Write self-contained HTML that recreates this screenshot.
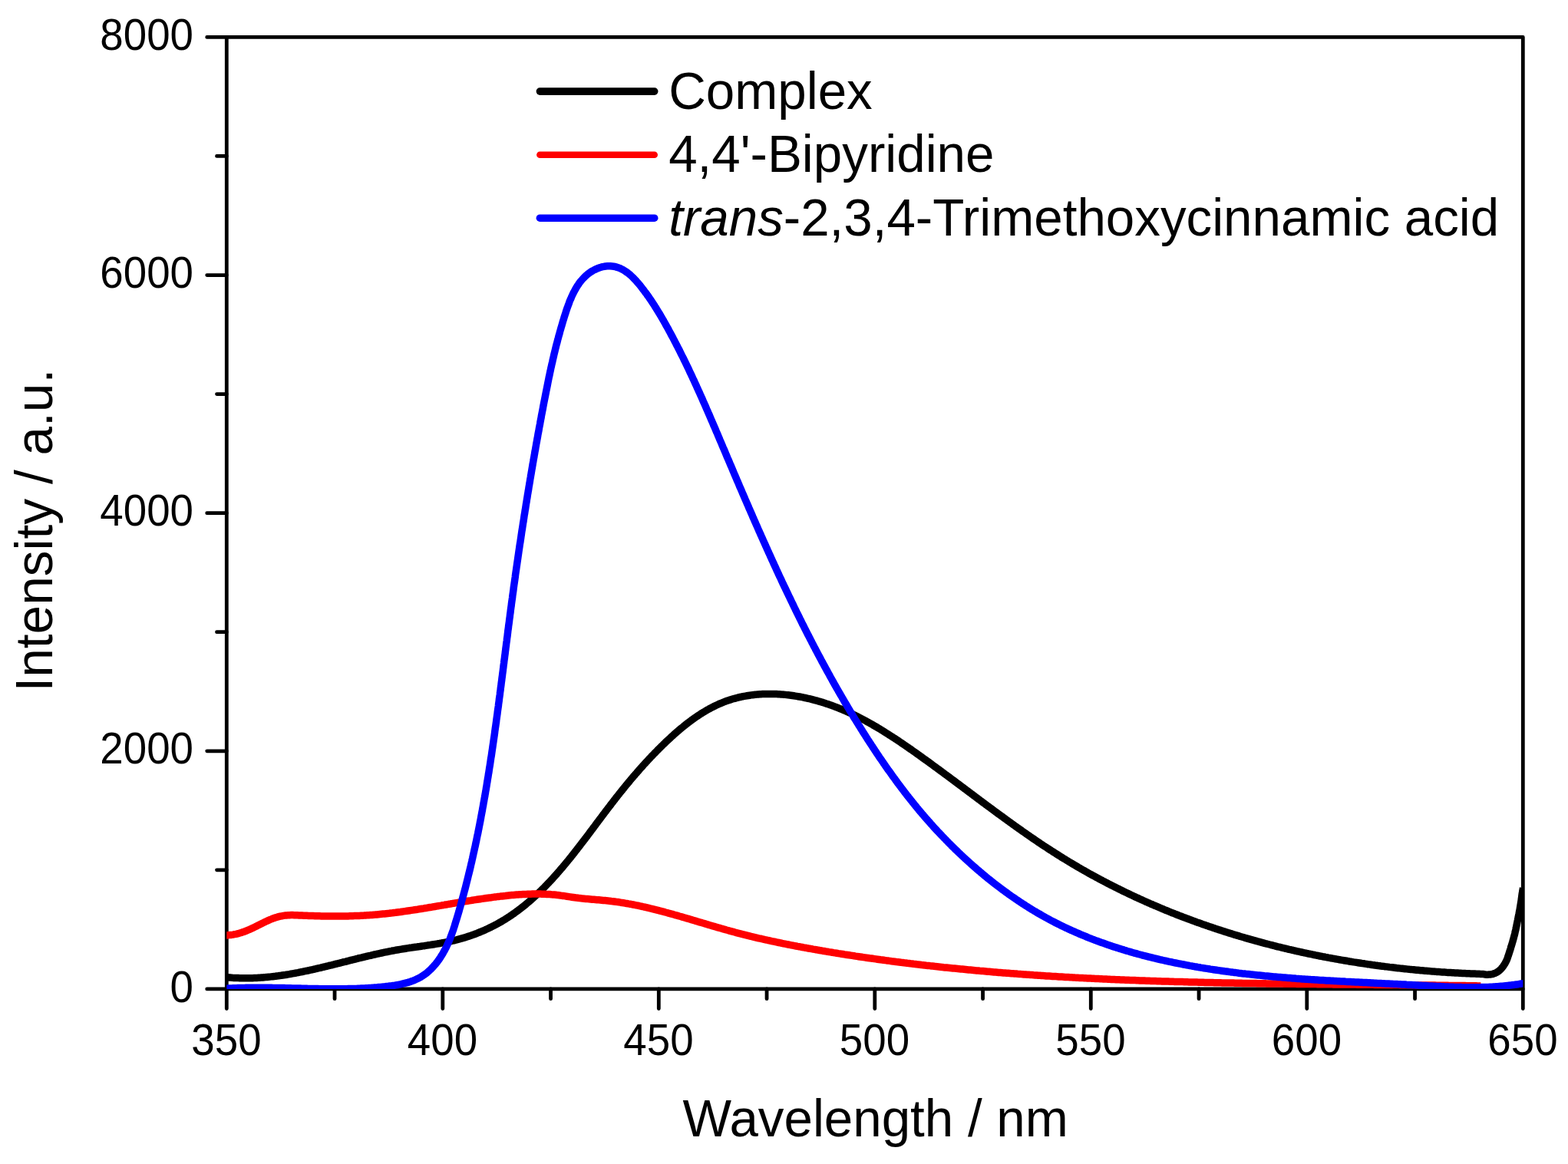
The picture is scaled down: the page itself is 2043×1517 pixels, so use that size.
<!DOCTYPE html><html><head><meta charset="utf-8"><style>html,body{margin:0;padding:0;background:#fff;overflow:hidden}svg{display:block}text{font-family:"Liberation Sans",Arial,sans-serif;fill:#000}</style></head><body>
<svg width="2043" height="1517" viewBox="0 0 2043 1517">
<rect width="2043" height="1517" fill="#fff"/>
<defs><clipPath id="pc"><rect x="295.30" y="48.40" width="1689.00" height="1240.50"/></clipPath></defs>
<path d="M295.30,1288.90H269.70M295.30,1133.84H282.50M295.30,978.78H269.70M295.30,823.71H282.50M295.30,668.65H269.70M295.30,513.59H282.50M295.30,358.53H269.70M295.30,203.46H282.50M295.30,48.40H269.70M295.30,1288.90V1314.50M436.05,1288.90V1301.70M576.80,1288.90V1314.50M717.55,1288.90V1301.70M858.30,1288.90V1314.50M999.05,1288.90V1301.70M1139.80,1288.90V1314.50M1280.55,1288.90V1301.70M1421.30,1288.90V1314.50M1562.05,1288.90V1301.70M1702.80,1288.90V1314.50M1843.55,1288.90V1301.70M1984.30,1288.90V1314.50" stroke="#000" stroke-width="4.80" stroke-linecap="round" fill="none"/>
<rect x="295.30" y="48.40" width="1689.00" height="1240.50" fill="none" stroke="#000" stroke-width="4.80" stroke-linejoin="round"/>
<text transform="translate(252.00,1305.60) scale(1,1.045)" font-size="54.70" text-anchor="end">0</text>
<text transform="translate(252.00,995.48) scale(1,1.045)" font-size="54.70" text-anchor="end">2000</text>
<text transform="translate(252.00,685.35) scale(1,1.045)" font-size="54.70" text-anchor="end">4000</text>
<text transform="translate(252.00,375.23) scale(1,1.045)" font-size="54.70" text-anchor="end">6000</text>
<text transform="translate(252.00,65.10) scale(1,1.045)" font-size="54.70" text-anchor="end">8000</text>
<text transform="translate(295.00,1375.10) scale(1,1.045)" font-size="54.70" text-anchor="middle">350</text>
<text transform="translate(576.50,1375.10) scale(1,1.045)" font-size="54.70" text-anchor="middle">400</text>
<text transform="translate(858.00,1375.10) scale(1,1.045)" font-size="54.70" text-anchor="middle">450</text>
<text transform="translate(1139.50,1375.10) scale(1,1.045)" font-size="54.70" text-anchor="middle">500</text>
<text transform="translate(1421.00,1375.10) scale(1,1.045)" font-size="54.70" text-anchor="middle">550</text>
<text transform="translate(1702.50,1375.10) scale(1,1.045)" font-size="54.70" text-anchor="middle">600</text>
<text transform="translate(1984.00,1375.10) scale(1,1.045)" font-size="54.70" text-anchor="middle">650</text>
<text transform="translate(1140.60,1481.40) scale(1,1.022)" font-size="67.30" text-anchor="middle">Wavelength / nm</text>
<text transform="translate(68.20,691.20) rotate(-90) scale(1,1.022)" font-size="67.60" text-anchor="middle">Intensity / a.u.</text>
<g clip-path="url(#pc)" fill="none" stroke-width="9.50" stroke-linejoin="round" stroke-linecap="butt">
<path stroke="#000" d="M289.2,1273.1L295.2,1273.6L297.1,1273.8L299.0,1274.0L300.9,1274.1L302.8,1274.3L304.7,1274.4L306.6,1274.5L308.5,1274.6L310.4,1274.6L312.3,1274.7L314.2,1274.8L316.1,1274.8L318.0,1274.8L319.9,1274.8L321.7,1274.8L323.6,1274.8L325.5,1274.8L327.4,1274.7L329.2,1274.7L331.1,1274.6L333.0,1274.5L334.8,1274.4L336.7,1274.3L338.6,1274.2L340.4,1274.1L342.3,1274.0L344.2,1273.8L346.0,1273.6L347.9,1273.5L349.7,1273.3L351.6,1273.1L353.4,1272.9L355.3,1272.7L357.1,1272.5L358.9,1272.3L360.8,1272.0L362.6,1271.8L364.5,1271.5L366.3,1271.3L368.1,1271.0L370.0,1270.7L371.8,1270.5L373.6,1270.2L375.5,1269.9L377.3,1269.6L379.1,1269.2L381.0,1268.9L382.8,1268.6L384.6,1268.3L386.4,1267.9L388.3,1267.6L390.1,1267.2L391.9,1266.8L393.7,1266.5L395.5,1266.1L397.4,1265.7L399.2,1265.3L401.0,1265.0L402.8,1264.6L404.6,1264.2L406.4,1263.8L408.3,1263.4L410.1,1263.0L411.9,1262.5L413.7,1262.1L415.5,1261.7L417.3,1261.3L419.1,1260.8L420.9,1260.4L422.8,1260.0L424.6,1259.5L426.4,1259.1L428.2,1258.7L430.0,1258.2L431.8,1257.8L433.6,1257.3L435.4,1256.9L437.2,1256.4L439.0,1256.0L440.9,1255.5L442.7,1255.1L444.5,1254.6L446.3,1254.2L448.1,1253.7L449.9,1253.3L451.7,1252.8L453.5,1252.3L455.3,1251.9L457.1,1251.4L459.0,1251.0L460.8,1250.5L462.6,1250.1L464.4,1249.6L466.2,1249.2L468.0,1248.7L469.8,1248.3L471.7,1247.9L473.5,1247.4L475.3,1247.0L477.1,1246.5L478.9,1246.1L480.7,1245.7L482.6,1245.3L484.4,1244.8L486.2,1244.4L488.0,1244.0L489.9,1243.6L491.7,1243.2L493.5,1242.8L495.3,1242.4L497.2,1242.0L499.0,1241.6L500.8,1241.2L502.7,1240.8L504.5,1240.5L506.3,1240.1L508.2,1239.7L510.0,1239.4L511.8,1239.0L513.7,1238.7L515.5,1238.3L517.4,1238.0L519.2,1237.7L521.1,1237.4L522.9,1237.1L524.8,1236.8L526.6,1236.5L528.5,1236.2L530.3,1235.9L532.2,1235.6L534.0,1235.3L535.9,1235.1L537.7,1234.8L539.6,1234.5L541.4,1234.2L543.3,1234.0L545.2,1233.7L547.0,1233.5L548.9,1233.2L550.7,1232.9L552.6,1232.7L554.4,1232.4L556.3,1232.1L558.2,1231.8L560.0,1231.6L561.9,1231.3L563.7,1231.0L565.6,1230.7L567.4,1230.4L569.2,1230.1L571.1,1229.8L572.9,1229.5L574.8,1229.1L576.6,1228.8L578.4,1228.5L580.3,1228.1L582.1,1227.8L583.9,1227.4L585.8,1227.0L587.6,1226.6L589.4,1226.2L591.2,1225.8L593.0,1225.3L594.8,1224.9L596.6,1224.4L598.4,1223.9L600.2,1223.4L602.0,1222.9L603.8,1222.4L605.6,1221.9L607.4,1221.3L609.1,1220.7L610.9,1220.2L612.7,1219.6L614.4,1218.9L616.2,1218.3L617.9,1217.7L619.7,1217.0L621.4,1216.4L623.1,1215.7L624.8,1215.0L626.6,1214.3L628.3,1213.5L630.0,1212.8L631.7,1212.1L633.4,1211.3L635.1,1210.5L636.7,1209.7L638.4,1208.9L640.1,1208.1L641.7,1207.3L643.4,1206.4L645.0,1205.6L646.7,1204.7L648.3,1203.8L649.9,1202.9L651.5,1202.0L653.1,1201.1L654.7,1200.1L656.3,1199.2L657.9,1198.2L659.4,1197.2L661.0,1196.2L662.5,1195.2L664.1,1194.2L665.6,1193.2L667.1,1192.2L668.6,1191.1L670.2,1190.1L671.6,1189.0L673.1,1187.9L674.6,1186.8L676.1,1185.7L677.6,1184.6L679.0,1183.5L680.5,1182.3L681.9,1181.2L683.4,1180.0L684.8,1178.9L686.2,1177.7L687.6,1176.5L689.0,1175.3L690.4,1174.1L691.8,1172.9L693.2,1171.6L694.6,1170.4L696.0,1169.2L697.3,1167.9L698.7,1166.7L700.0,1165.4L701.4,1164.1L702.7,1162.8L704.1,1161.5L705.4,1160.2L706.7,1158.9L708.0,1157.6L709.3,1156.3L710.6,1154.9L711.9,1153.6L713.2,1152.2L714.5,1150.9L715.8,1149.5L717.1,1148.2L718.4,1146.8L719.6,1145.4L720.9,1144.0L722.1,1142.6L723.4,1141.2L724.7,1139.8L725.9,1138.4L727.1,1137.0L728.4,1135.6L729.6,1134.1L730.8,1132.7L732.0,1131.3L733.3,1129.8L734.5,1128.4L735.7,1126.9L736.9,1125.5L738.1,1124.0L739.3,1122.6L740.5,1121.1L741.7,1119.6L742.9,1118.2L744.1,1116.7L745.2,1115.2L746.4,1113.7L747.6,1112.2L748.8,1110.7L749.9,1109.2L751.1,1107.8L752.3,1106.3L753.4,1104.8L754.6,1103.3L755.8,1101.8L756.9,1100.3L758.1,1098.7L759.2,1097.2L760.4,1095.7L761.5,1094.2L762.7,1092.7L763.8,1091.2L765.0,1089.7L766.1,1088.2L767.2,1086.7L768.4,1085.1L769.5,1083.6L770.6,1082.1L771.8,1080.6L772.9,1079.1L774.0,1077.6L775.2,1076.1L776.3,1074.5L777.4,1073.0L778.6,1071.5L779.7,1070.0L780.8,1068.5L782.0,1067.0L783.1,1065.5L784.2,1064.0L785.3,1062.5L786.5,1061.0L787.6,1059.5L788.7,1058.0L789.9,1056.5L791.0,1055.0L792.1,1053.5L793.2,1052.1L794.4,1050.6L795.5,1049.1L796.6,1047.6L797.8,1046.1L798.9,1044.7L800.0,1043.2L801.2,1041.8L802.3,1040.3L803.5,1038.8L804.6,1037.4L805.8,1035.9L806.9,1034.5L808.0,1033.0L809.2,1031.6L810.3,1030.2L811.5,1028.7L812.7,1027.3L813.8,1025.9L815.0,1024.4L816.1,1023.0L817.3,1021.6L818.5,1020.2L819.7,1018.8L820.8,1017.4L822.0,1015.9L823.2,1014.5L824.4,1013.1L825.6,1011.7L826.8,1010.3L828.0,1008.9L829.2,1007.6L830.4,1006.2L831.6,1004.8L832.8,1003.4L834.0,1002.0L835.2,1000.6L836.5,999.3L837.7,997.9L838.9,996.5L840.2,995.2L841.4,993.8L842.7,992.4L843.9,991.1L845.2,989.7L846.5,988.4L847.7,987.0L849.0,985.7L850.3,984.3L851.6,983.0L852.9,981.7L854.2,980.3L855.5,979.0L856.8,977.7L858.1,976.3L859.4,975.0L860.8,973.7L862.1,972.4L863.5,971.0L864.8,969.7L866.2,968.4L867.5,967.1L868.9,965.8L870.3,964.5L871.7,963.2L873.1,961.9L874.5,960.6L875.9,959.3L877.3,958.1L878.7,956.8L880.1,955.5L881.6,954.3L883.0,953.0L884.5,951.8L885.9,950.5L887.4,949.3L888.9,948.1L890.4,946.9L891.8,945.7L893.3,944.5L894.8,943.3L896.3,942.2L897.9,941.0L899.4,939.9L900.9,938.7L902.4,937.6L904.0,936.5L905.5,935.4L907.1,934.3L908.7,933.3L910.2,932.2L911.8,931.2L913.4,930.1L915.0,929.1L916.6,928.2L918.2,927.2L919.8,926.2L921.4,925.3L923.1,924.4L924.7,923.5L926.3,922.6L928.0,921.7L929.6,920.9L931.3,920.1L933.0,919.3L934.7,918.5L936.3,917.7L938.0,917.0L939.7,916.3L941.4,915.6L943.2,914.9L944.9,914.2L946.6,913.6L948.3,913.0L950.1,912.4L951.8,911.9L953.6,911.3L955.3,910.8L957.1,910.3L958.9,909.8L960.7,909.4L962.4,908.9L964.2,908.5L966.0,908.1L967.8,907.7L969.6,907.4L971.4,907.1L973.2,906.8L975.0,906.5L976.9,906.2L978.7,905.9L980.5,905.7L982.3,905.5L984.2,905.3L986.0,905.1L987.8,905.0L989.7,904.8L991.5,904.7L993.4,904.6L995.2,904.5L997.1,904.5L998.9,904.4L1000.8,904.4L1002.6,904.4L1004.5,904.4L1006.3,904.4L1008.2,904.4L1010.1,904.5L1011.9,904.6L1013.8,904.7L1015.6,904.8L1017.5,904.9L1019.4,905.1L1021.2,905.2L1023.1,905.4L1025.0,905.6L1026.8,905.8L1028.7,906.0L1030.5,906.2L1032.4,906.5L1034.3,906.8L1036.1,907.1L1038.0,907.4L1039.8,907.7L1041.7,908.0L1043.5,908.3L1045.4,908.7L1047.2,909.1L1049.1,909.5L1050.9,909.9L1052.7,910.3L1054.6,910.7L1056.4,911.1L1058.2,911.6L1060.1,912.1L1061.9,912.6L1063.7,913.0L1065.5,913.6L1067.3,914.1L1069.1,914.6L1070.9,915.2L1072.7,915.7L1074.5,916.3L1076.3,916.9L1078.1,917.5L1079.8,918.1L1081.6,918.7L1083.4,919.3L1085.1,919.9L1086.9,920.6L1088.6,921.3L1090.4,921.9L1092.1,922.6L1093.8,923.3L1095.6,924.0L1097.3,924.7L1099.0,925.5L1100.7,926.2L1102.4,926.9L1104.1,927.7L1105.8,928.5L1107.5,929.2L1109.2,930.0L1110.9,930.8L1112.5,931.6L1114.2,932.4L1115.9,933.2L1117.5,934.1L1119.2,934.9L1120.8,935.7L1122.5,936.6L1124.1,937.5L1125.8,938.3L1127.4,939.2L1129.0,940.1L1130.6,941.0L1132.3,941.9L1133.9,942.8L1135.5,943.7L1137.1,944.6L1138.7,945.6L1140.3,946.5L1141.9,947.4L1143.5,948.4L1145.1,949.3L1146.7,950.3L1148.3,951.3L1149.9,952.2L1151.5,953.2L1153.0,954.2L1154.6,955.2L1156.2,956.2L1157.8,957.2L1159.3,958.2L1160.9,959.2L1162.5,960.2L1164.0,961.2L1165.6,962.2L1167.1,963.3L1168.7,964.3L1170.2,965.3L1171.8,966.4L1173.3,967.4L1174.9,968.5L1176.4,969.5L1178.0,970.6L1179.5,971.6L1181.0,972.7L1182.6,973.7L1184.1,974.8L1185.6,975.9L1187.2,976.9L1188.7,978.0L1190.2,979.1L1191.8,980.2L1193.3,981.2L1194.8,982.3L1196.3,983.4L1197.9,984.5L1199.4,985.6L1200.9,986.7L1202.4,987.8L1203.9,988.9L1205.5,990.0L1207.0,991.0L1208.5,992.1L1210.0,993.2L1211.5,994.3L1213.0,995.4L1214.5,996.5L1216.1,997.7L1217.6,998.8L1219.1,999.9L1220.6,1001.0L1222.1,1002.1L1223.6,1003.2L1225.1,1004.3L1226.6,1005.4L1228.1,1006.5L1229.6,1007.6L1231.1,1008.8L1232.7,1009.9L1234.2,1011.0L1235.7,1012.1L1237.2,1013.2L1238.7,1014.4L1240.2,1015.5L1241.7,1016.6L1243.2,1017.7L1244.7,1018.8L1246.2,1020.0L1247.7,1021.1L1249.2,1022.2L1250.7,1023.3L1252.2,1024.4L1253.7,1025.6L1255.2,1026.7L1256.7,1027.8L1258.2,1028.9L1259.7,1030.1L1261.2,1031.2L1262.7,1032.3L1264.2,1033.4L1265.7,1034.6L1267.2,1035.7L1268.7,1036.8L1270.2,1037.9L1271.7,1039.1L1273.2,1040.2L1274.7,1041.3L1276.2,1042.4L1277.7,1043.6L1279.2,1044.7L1280.7,1045.8L1282.2,1046.9L1283.7,1048.0L1285.2,1049.2L1286.8,1050.3L1288.3,1051.4L1289.8,1052.5L1291.3,1053.6L1292.8,1054.7L1294.3,1055.9L1295.8,1057.0L1297.3,1058.1L1298.8,1059.2L1300.3,1060.3L1301.8,1061.4L1303.3,1062.5L1304.9,1063.6L1306.4,1064.7L1307.9,1065.8L1309.4,1066.9L1310.9,1068.0L1312.4,1069.1L1313.9,1070.2L1315.5,1071.3L1317.0,1072.4L1318.5,1073.5L1320.0,1074.6L1321.5,1075.7L1323.1,1076.8L1324.6,1077.9L1326.1,1079.0L1327.6,1080.0L1329.2,1081.1L1330.7,1082.2L1332.2,1083.3L1333.8,1084.4L1335.3,1085.4L1336.8,1086.5L1338.4,1087.6L1339.9,1088.6L1341.4,1089.7L1343.0,1090.8L1344.5,1091.8L1346.0,1092.9L1347.6,1093.9L1349.1,1095.0L1350.7,1096.0L1352.2,1097.1L1353.8,1098.1L1355.3,1099.2L1356.9,1100.2L1358.4,1101.2L1360.0,1102.3L1361.5,1103.3L1363.1,1104.3L1364.7,1105.3L1366.2,1106.4L1367.8,1107.4L1369.4,1108.4L1370.9,1109.4L1372.5,1110.4L1374.1,1111.4L1375.6,1112.4L1377.2,1113.4L1378.8,1114.4L1380.4,1115.4L1381.9,1116.4L1383.5,1117.4L1385.1,1118.4L1386.7,1119.3L1388.3,1120.3L1389.9,1121.3L1391.5,1122.2L1393.1,1123.2L1394.7,1124.2L1396.3,1125.1L1397.9,1126.1L1399.5,1127.0L1401.1,1128.0L1402.7,1128.9L1404.3,1129.9L1405.9,1130.8L1407.5,1131.7L1409.1,1132.7L1410.7,1133.6L1412.4,1134.5L1414.0,1135.4L1415.6,1136.3L1417.2,1137.2L1418.8,1138.2L1420.5,1139.1L1422.1,1140.0L1423.7,1140.9L1425.4,1141.7L1427.0,1142.6L1428.6,1143.5L1430.3,1144.4L1431.9,1145.3L1433.6,1146.2L1435.2,1147.0L1436.8,1147.9L1438.5,1148.8L1440.1,1149.6L1441.8,1150.5L1443.4,1151.4L1445.1,1152.2L1446.7,1153.1L1448.4,1153.9L1450.1,1154.8L1451.7,1155.6L1453.4,1156.4L1455.1,1157.3L1456.7,1158.1L1458.4,1158.9L1460.1,1159.7L1461.7,1160.6L1463.4,1161.4L1465.1,1162.2L1466.7,1163.0L1468.4,1163.8L1470.1,1164.6L1471.8,1165.4L1473.5,1166.2L1475.2,1167.0L1476.8,1167.8L1478.5,1168.6L1480.2,1169.4L1481.9,1170.1L1483.6,1170.9L1485.3,1171.7L1487.0,1172.5L1488.7,1173.2L1490.4,1174.0L1492.1,1174.8L1493.8,1175.5L1495.5,1176.3L1497.2,1177.0L1498.9,1177.8L1500.6,1178.5L1502.3,1179.2L1504.0,1180.0L1505.7,1180.7L1507.4,1181.4L1509.2,1182.2L1510.9,1182.9L1512.6,1183.6L1514.3,1184.3L1516.0,1185.0L1517.8,1185.8L1519.5,1186.5L1521.2,1187.2L1522.9,1187.9L1524.7,1188.6L1526.4,1189.3L1528.1,1190.0L1529.9,1190.6L1531.6,1191.3L1533.3,1192.0L1535.1,1192.7L1536.8,1193.4L1538.5,1194.0L1540.3,1194.7L1542.0,1195.4L1543.8,1196.0L1545.5,1196.7L1547.2,1197.3L1549.0,1198.0L1550.7,1198.6L1552.5,1199.3L1554.2,1199.9L1556.0,1200.6L1557.7,1201.2L1559.5,1201.9L1561.3,1202.5L1563.0,1203.1L1564.8,1203.7L1566.5,1204.4L1568.3,1205.0L1570.0,1205.6L1571.8,1206.2L1573.6,1206.8L1575.3,1207.4L1577.1,1208.0L1578.9,1208.6L1580.6,1209.2L1582.4,1209.8L1584.2,1210.4L1586.0,1211.0L1587.7,1211.6L1589.5,1212.1L1591.3,1212.7L1593.1,1213.3L1594.8,1213.9L1596.6,1214.4L1598.4,1215.0L1600.2,1215.6L1601.9,1216.1L1603.7,1216.7L1605.5,1217.2L1607.3,1217.8L1609.1,1218.3L1610.9,1218.9L1612.7,1219.4L1614.5,1219.9L1616.2,1220.5L1618.0,1221.0L1619.8,1221.5L1621.6,1222.1L1623.4,1222.6L1625.2,1223.1L1627.0,1223.6L1628.8,1224.1L1630.6,1224.6L1632.4,1225.1L1634.2,1225.7L1636.0,1226.2L1637.8,1226.7L1639.6,1227.1L1641.4,1227.6L1643.2,1228.1L1645.0,1228.6L1646.8,1229.1L1648.6,1229.6L1650.4,1230.0L1652.2,1230.5L1654.1,1231.0L1655.9,1231.5L1657.7,1231.9L1659.5,1232.4L1661.3,1232.8L1663.1,1233.3L1664.9,1233.8L1666.8,1234.2L1668.6,1234.6L1670.4,1235.1L1672.2,1235.5L1674.0,1236.0L1675.8,1236.4L1677.7,1236.8L1679.5,1237.3L1681.3,1237.7L1683.1,1238.1L1685.0,1238.5L1686.8,1239.0L1688.6,1239.4L1690.4,1239.8L1692.3,1240.2L1694.1,1240.6L1695.9,1241.0L1697.7,1241.4L1699.6,1241.8L1701.4,1242.2L1703.2,1242.6L1705.1,1243.0L1706.9,1243.3L1708.7,1243.7L1710.6,1244.1L1712.4,1244.5L1714.2,1244.9L1716.1,1245.2L1717.9,1245.6L1719.7,1246.0L1721.6,1246.3L1723.4,1246.7L1725.2,1247.0L1727.1,1247.4L1728.9,1247.7L1730.8,1248.1L1732.6,1248.4L1734.4,1248.8L1736.3,1249.1L1738.1,1249.4L1740.0,1249.8L1741.8,1250.1L1743.6,1250.4L1745.5,1250.8L1747.3,1251.1L1749.2,1251.4L1751.0,1251.7L1752.9,1252.0L1754.7,1252.3L1756.6,1252.6L1758.4,1253.0L1760.3,1253.3L1762.1,1253.6L1763.9,1253.9L1765.8,1254.1L1767.6,1254.4L1769.5,1254.7L1771.3,1255.0L1773.2,1255.3L1775.0,1255.6L1776.9,1255.8L1778.7,1256.1L1780.6,1256.4L1782.4,1256.7L1784.3,1256.9L1786.2,1257.2L1788.0,1257.5L1789.9,1257.7L1791.7,1258.0L1793.6,1258.2L1795.4,1258.5L1797.3,1258.7L1799.1,1259.0L1801.0,1259.2L1802.8,1259.4L1804.7,1259.7L1806.6,1259.9L1808.4,1260.1L1810.3,1260.4L1812.1,1260.6L1814.0,1260.8L1815.8,1261.0L1817.7,1261.2L1819.5,1261.5L1821.4,1261.7L1823.3,1261.9L1825.1,1262.1L1827.0,1262.3L1828.8,1262.5L1830.7,1262.7L1832.6,1262.9L1834.4,1263.1L1836.3,1263.3L1838.1,1263.4L1840.0,1263.6L1841.8,1263.8L1843.7,1264.0L1845.6,1264.2L1847.4,1264.3L1849.3,1264.5L1851.1,1264.7L1853.0,1264.8L1854.9,1265.0L1856.7,1265.2L1858.6,1265.3L1860.4,1265.5L1862.3,1265.6L1864.2,1265.8L1866.0,1265.9L1867.9,1266.1L1869.7,1266.2L1871.6,1266.4L1873.5,1266.5L1875.3,1266.6L1877.2,1266.8L1879.0,1266.9L1880.9,1267.0L1882.8,1267.1L1884.6,1267.3L1886.5,1267.4L1888.3,1267.5L1890.2,1267.6L1892.1,1267.7L1893.9,1267.8L1895.8,1267.9L1897.6,1268.0L1899.5,1268.1L1901.4,1268.2L1903.2,1268.3L1905.1,1268.4L1906.9,1268.5L1908.8,1268.6L1910.6,1268.7L1912.5,1268.8L1914.4,1268.8L1916.2,1268.9L1918.1,1269.0L1919.9,1269.1L1921.8,1269.1L1923.6,1269.2L1925.5,1269.3L1927.4,1269.3L1929.2,1269.4L1931.1,1269.5L1932.9,1269.5L1933.2,1269.6L1933.6,1269.7L1933.9,1269.8L1934.3,1269.9L1934.7,1270.0L1935.1,1270.1L1935.6,1270.1L1936.0,1270.2L1936.5,1270.2L1936.9,1270.2L1937.4,1270.2L1937.9,1270.2L1938.5,1270.2L1939.0,1270.2L1939.5,1270.1L1940.0,1270.1L1940.5,1270.1L1941.0,1270.0L1941.5,1270.0L1942.0,1269.9L1942.5,1269.9L1943.0,1269.8L1943.5,1269.7L1944.0,1269.6L1944.5,1269.5L1945.0,1269.3L1945.5,1269.2L1946.0,1269.0L1946.5,1268.9L1947.0,1268.7L1947.5,1268.5L1948.0,1268.3L1948.5,1268.1L1948.9,1267.9L1949.4,1267.7L1949.8,1267.4L1950.2,1267.2L1950.7,1266.9L1951.1,1266.7L1951.5,1266.4L1951.9,1266.1L1952.3,1265.8L1952.7,1265.6L1953.0,1265.3L1953.4,1265.0L1953.8,1264.7L1954.1,1264.3L1954.5,1264.0L1954.9,1263.7L1955.2,1263.3L1955.6,1263.0L1955.9,1262.6L1956.3,1262.2L1956.6,1261.8L1956.9,1261.4L1957.3,1261.0L1957.7,1260.5L1958.0,1260.1L1958.4,1259.6L1958.7,1259.0L1959.1,1258.5L1959.5,1257.9L1959.8,1257.4L1960.2,1256.8L1960.6,1256.2L1960.9,1255.7L1961.2,1255.1L1961.6,1254.5L1961.9,1253.9L1962.3,1253.2L1962.6,1252.4L1963.0,1251.6L1963.4,1250.7L1963.8,1249.6L1964.2,1248.5L1964.6,1247.3L1965.0,1246.1L1965.4,1244.9L1965.8,1243.7L1966.2,1242.5L1966.6,1241.3L1967.0,1240.1L1967.4,1238.8L1967.8,1237.6L1968.2,1236.3L1968.5,1235.0L1968.9,1233.8L1969.3,1232.5L1969.7,1231.2L1970.1,1230.0L1970.4,1228.7L1970.8,1227.5L1971.2,1226.2L1971.5,1225.0L1971.9,1223.7L1972.2,1222.5L1972.5,1221.3L1972.8,1220.1L1973.2,1218.8L1973.5,1217.6L1973.8,1216.4L1974.0,1215.2L1974.3,1214.0L1974.6,1212.8L1974.9,1211.6L1975.1,1210.4L1975.4,1209.2L1975.6,1208.0L1975.9,1206.7L1976.1,1205.5L1976.4,1204.3L1976.6,1203.1L1976.9,1201.9L1977.1,1200.6L1977.4,1199.4L1977.6,1198.2L1977.9,1197.0L1978.1,1195.7L1978.4,1194.5L1978.6,1193.3L1978.8,1192.1L1979.1,1190.9L1979.3,1189.7L1979.5,1188.5L1979.7,1187.4L1980.0,1186.2L1980.2,1185.0L1980.4,1183.8L1980.6,1182.6L1980.8,1181.4L1981.0,1180.1L1981.2,1178.9L1981.4,1177.7L1981.6,1176.4L1981.8,1175.2L1982.0,1174.0L1982.2,1172.8L1982.3,1171.5L1982.5,1170.3L1982.7,1169.0L1982.8,1167.8L1983.0,1166.6L1983.1,1165.5L1983.3,1164.4L1983.5,1163.3L1983.7,1162.3L1983.8,1161.2L1984.0,1160.3L1984.2,1159.3L1984.4,1158.5L1984.5,1157.8L1984.6,1157.3"/>
<path stroke="#f00" d="M289.3,1219.4L295.3,1219.0L297.3,1218.8L299.4,1218.6L301.5,1218.4L303.5,1218.1L305.5,1217.7L307.5,1217.3L309.5,1216.8L311.5,1216.3L313.5,1215.7L315.4,1215.1L317.4,1214.4L319.3,1213.7L321.2,1213.0L323.2,1212.2L325.1,1211.4L327.0,1210.5L328.9,1209.6L330.8,1208.7L332.7,1207.8L334.6,1206.9L336.4,1205.9L338.3,1205.0L340.2,1204.0L342.1,1203.1L344.0,1202.1L345.9,1201.2L347.8,1200.3L349.7,1199.5L351.6,1198.6L353.5,1197.9L355.4,1197.1L357.4,1196.4L359.3,1195.8L361.3,1195.2L363.2,1194.7L365.2,1194.2L367.2,1193.8L369.2,1193.4L371.2,1193.1L373.2,1192.9L375.2,1192.8L377.2,1192.7L379.3,1192.6L381.3,1192.6L383.4,1192.7L385.4,1192.7L387.5,1192.8L389.6,1192.9L391.6,1193.0L393.7,1193.1L395.7,1193.2L397.8,1193.3L399.9,1193.3L401.9,1193.4L404.0,1193.5L406.1,1193.6L408.1,1193.6L410.2,1193.7L412.3,1193.7L414.3,1193.8L416.4,1193.8L418.5,1193.9L420.5,1193.9L422.6,1194.0L424.7,1194.0L426.7,1194.0L428.8,1194.0L430.9,1194.0L433.0,1194.1L435.0,1194.1L437.1,1194.1L439.2,1194.1L441.2,1194.1L443.3,1194.0L445.4,1194.0L447.4,1194.0L449.5,1194.0L451.6,1193.9L453.7,1193.9L455.7,1193.8L457.8,1193.8L459.9,1193.7L461.9,1193.6L464.0,1193.6L466.1,1193.5L468.1,1193.4L470.2,1193.3L472.3,1193.2L474.3,1193.1L476.4,1192.9L478.4,1192.8L480.5,1192.7L482.6,1192.5L484.6,1192.4L486.7,1192.2L488.8,1192.1L490.8,1191.9L492.9,1191.7L494.9,1191.5L497.0,1191.3L499.0,1191.1L501.1,1190.9L503.1,1190.7L505.2,1190.5L507.2,1190.3L509.3,1190.0L511.3,1189.8L513.4,1189.5L515.4,1189.3L517.5,1189.0L519.5,1188.7L521.6,1188.5L523.6,1188.2L525.7,1187.9L527.7,1187.6L529.8,1187.3L531.8,1187.0L533.8,1186.7L535.9,1186.4L537.9,1186.1L540.0,1185.8L542.0,1185.5L544.1,1185.2L546.1,1184.8L548.1,1184.5L550.2,1184.2L552.2,1183.9L554.3,1183.5L556.3,1183.2L558.3,1182.8L560.4,1182.5L562.4,1182.2L564.5,1181.8L566.5,1181.5L568.5,1181.1L570.6,1180.8L572.6,1180.4L574.6,1180.1L576.7,1179.7L578.7,1179.4L580.8,1179.0L582.8,1178.7L584.8,1178.3L586.9,1178.0L588.9,1177.6L591.0,1177.3L593.0,1176.9L595.0,1176.6L597.1,1176.3L599.1,1175.9L601.2,1175.6L603.2,1175.2L605.2,1174.9L607.3,1174.6L609.3,1174.2L611.4,1173.9L613.4,1173.6L615.5,1173.2L617.5,1172.9L619.5,1172.6L621.6,1172.3L623.6,1172.0L625.7,1171.7L627.7,1171.4L629.8,1171.1L631.8,1170.8L633.9,1170.5L635.9,1170.2L638.0,1169.9L640.0,1169.7L642.1,1169.4L644.1,1169.1L646.2,1168.9L648.2,1168.6L650.3,1168.4L652.3,1168.1L654.4,1167.9L656.5,1167.7L658.5,1167.5L660.6,1167.2L662.6,1167.0L664.7,1166.8L666.8,1166.6L668.8,1166.5L670.9,1166.3L673.0,1166.1L675.0,1166.0L677.1,1165.8L679.1,1165.7L681.2,1165.6L683.3,1165.5L685.3,1165.4L687.4,1165.3L689.5,1165.2L691.5,1165.2L693.6,1165.1L695.7,1165.1L697.7,1165.1L699.8,1165.1L701.8,1165.1L703.9,1165.1L706.0,1165.2L708.0,1165.2L710.1,1165.3L712.1,1165.4L714.2,1165.5L716.2,1165.6L718.3,1165.8L720.4,1165.9L722.4,1166.1L724.5,1166.3L726.5,1166.6L728.5,1166.8L730.6,1167.1L732.6,1167.4L734.7,1167.6L736.7,1167.9L738.8,1168.3L740.8,1168.6L742.8,1168.9L744.9,1169.2L746.9,1169.5L749.0,1169.8L751.0,1170.1L753.1,1170.3L755.2,1170.6L757.2,1170.8L759.3,1171.1L761.3,1171.3L763.4,1171.5L765.5,1171.6L767.6,1171.8L769.6,1172.0L771.7,1172.2L773.8,1172.3L775.8,1172.5L777.9,1172.7L780.0,1172.8L782.1,1173.0L784.1,1173.2L786.2,1173.4L788.3,1173.6L790.3,1173.8L792.4,1174.0L794.4,1174.2L796.5,1174.5L798.6,1174.7L800.6,1175.0L802.7,1175.3L804.7,1175.5L806.7,1175.8L808.8,1176.2L810.8,1176.5L812.9,1176.8L814.9,1177.2L816.9,1177.5L818.9,1177.9L821.0,1178.2L823.0,1178.6L825.0,1179.0L827.0,1179.4L829.1,1179.8L831.1,1180.2L833.1,1180.7L835.1,1181.1L837.1,1181.5L839.1,1182.0L841.1,1182.4L843.1,1182.9L845.2,1183.4L847.2,1183.9L849.2,1184.3L851.2,1184.8L853.2,1185.3L855.2,1185.8L857.2,1186.3L859.1,1186.9L861.1,1187.4L863.1,1187.9L865.1,1188.4L867.1,1189.0L869.1,1189.5L871.1,1190.1L873.1,1190.6L875.1,1191.2L877.1,1191.7L879.1,1192.3L881.0,1192.8L883.0,1193.4L885.0,1194.0L887.0,1194.5L889.0,1195.1L891.0,1195.7L892.9,1196.3L894.9,1196.9L896.9,1197.4L898.9,1198.0L900.9,1198.6L902.9,1199.2L904.8,1199.8L906.8,1200.4L908.8,1201.0L910.8,1201.6L912.8,1202.2L914.7,1202.7L916.7,1203.3L918.7,1203.9L920.7,1204.5L922.7,1205.1L924.7,1205.7L926.6,1206.3L928.6,1206.9L930.6,1207.4L932.6,1208.0L934.6,1208.6L936.6,1209.2L938.6,1209.7L940.6,1210.3L942.5,1210.9L944.5,1211.4L946.5,1212.0L948.5,1212.5L950.5,1213.1L952.5,1213.6L954.5,1214.2L956.5,1214.7L958.5,1215.3L960.5,1215.8L962.5,1216.3L964.5,1216.8L966.5,1217.4L968.5,1217.9L970.5,1218.4L972.5,1218.9L974.5,1219.4L976.5,1219.9L978.5,1220.4L980.5,1220.8L982.6,1221.3L984.6,1221.8L986.6,1222.3L988.6,1222.8L990.6,1223.2L992.6,1223.7L994.6,1224.1L996.7,1224.6L998.7,1225.0L1000.7,1225.5L1002.7,1225.9L1004.7,1226.4L1006.8,1226.8L1008.8,1227.2L1010.8,1227.7L1012.8,1228.1L1014.8,1228.5L1016.9,1228.9L1018.9,1229.4L1020.9,1229.8L1023.0,1230.2L1025.0,1230.6L1027.0,1231.0L1029.0,1231.4L1031.1,1231.8L1033.1,1232.2L1035.1,1232.6L1037.2,1233.0L1039.2,1233.4L1041.2,1233.7L1043.3,1234.1L1045.3,1234.5L1047.3,1234.9L1049.4,1235.2L1051.4,1235.6L1053.4,1236.0L1055.5,1236.3L1057.5,1236.7L1059.5,1237.1L1061.6,1237.4L1063.6,1237.8L1065.7,1238.1L1067.7,1238.5L1069.7,1238.8L1071.8,1239.2L1073.8,1239.5L1075.9,1239.9L1077.9,1240.2L1079.9,1240.6L1082.0,1240.9L1084.0,1241.2L1086.1,1241.6L1088.1,1241.9L1090.1,1242.2L1092.2,1242.6L1094.2,1242.9L1096.3,1243.2L1098.3,1243.5L1100.3,1243.9L1102.4,1244.2L1104.4,1244.5L1106.5,1244.8L1108.5,1245.1L1110.6,1245.4L1112.6,1245.7L1114.6,1246.1L1116.7,1246.4L1118.7,1246.7L1120.8,1247.0L1122.8,1247.3L1124.9,1247.6L1126.9,1247.9L1128.9,1248.2L1131.0,1248.5L1133.0,1248.8L1135.1,1249.0L1137.1,1249.3L1139.2,1249.6L1141.2,1249.9L1143.3,1250.2L1145.3,1250.5L1147.4,1250.8L1149.4,1251.0L1151.4,1251.3L1153.5,1251.6L1155.5,1251.9L1157.6,1252.1L1159.6,1252.4L1161.7,1252.7L1163.7,1252.9L1165.8,1253.2L1167.8,1253.5L1169.9,1253.7L1171.9,1254.0L1174.0,1254.3L1176.0,1254.5L1178.1,1254.8L1180.1,1255.0L1182.2,1255.3L1184.2,1255.5L1186.3,1255.8L1188.3,1256.0L1190.4,1256.3L1192.4,1256.5L1194.5,1256.8L1196.5,1257.0L1198.6,1257.2L1200.6,1257.5L1202.7,1257.7L1204.7,1257.9L1206.8,1258.2L1208.8,1258.4L1210.9,1258.6L1212.9,1258.9L1215.0,1259.1L1217.0,1259.3L1219.1,1259.6L1221.2,1259.8L1223.2,1260.0L1225.3,1260.2L1227.3,1260.4L1229.4,1260.7L1231.4,1260.9L1233.5,1261.1L1235.5,1261.3L1237.6,1261.5L1239.6,1261.7L1241.7,1261.9L1243.7,1262.1L1245.8,1262.3L1247.9,1262.5L1249.9,1262.7L1252.0,1262.9L1254.0,1263.1L1256.1,1263.3L1258.1,1263.5L1260.2,1263.7L1262.2,1263.9L1264.3,1264.1L1266.4,1264.3L1268.4,1264.5L1270.5,1264.7L1272.5,1264.9L1274.6,1265.1L1276.6,1265.3L1278.7,1265.4L1280.8,1265.6L1282.8,1265.8L1284.9,1266.0L1286.9,1266.2L1289.0,1266.3L1291.0,1266.5L1293.1,1266.7L1295.2,1266.9L1297.2,1267.0L1299.3,1267.2L1301.3,1267.4L1303.4,1267.5L1305.5,1267.7L1307.5,1267.9L1309.6,1268.0L1311.6,1268.2L1313.7,1268.3L1315.7,1268.5L1317.8,1268.7L1319.9,1268.8L1321.9,1269.0L1324.0,1269.1L1326.0,1269.3L1328.1,1269.4L1330.2,1269.6L1332.2,1269.7L1334.3,1269.9L1336.3,1270.0L1338.4,1270.2L1340.5,1270.3L1342.5,1270.5L1344.6,1270.6L1346.7,1270.8L1348.7,1270.9L1350.8,1271.0L1352.8,1271.2L1354.9,1271.3L1357.0,1271.5L1359.0,1271.6L1361.1,1271.7L1363.2,1271.9L1365.2,1272.0L1367.3,1272.1L1369.3,1272.2L1371.4,1272.4L1373.5,1272.5L1375.5,1272.6L1377.6,1272.7L1379.7,1272.9L1381.7,1273.0L1383.8,1273.1L1385.8,1273.2L1387.9,1273.4L1390.0,1273.5L1392.0,1273.6L1394.1,1273.7L1396.2,1273.8L1398.2,1273.9L1400.3,1274.1L1402.4,1274.2L1404.4,1274.3L1406.5,1274.4L1408.5,1274.5L1410.6,1274.6L1412.7,1274.7L1414.7,1274.8L1416.8,1274.9L1418.9,1275.0L1420.9,1275.1L1423.0,1275.2L1425.1,1275.3L1427.1,1275.4L1429.2,1275.5L1431.3,1275.6L1433.3,1275.7L1435.4,1275.8L1437.5,1275.9L1439.5,1276.0L1441.6,1276.1L1443.7,1276.2L1445.7,1276.3L1447.8,1276.4L1449.9,1276.5L1451.9,1276.6L1454.0,1276.7L1456.1,1276.7L1458.1,1276.8L1460.2,1276.9L1462.2,1277.0L1464.3,1277.1L1466.4,1277.2L1468.4,1277.2L1470.5,1277.3L1472.6,1277.4L1474.6,1277.5L1476.7,1277.6L1478.8,1277.6L1480.9,1277.7L1482.9,1277.8L1485.0,1277.9L1487.1,1278.0L1489.1,1278.0L1491.2,1278.1L1493.3,1278.2L1495.3,1278.2L1497.4,1278.3L1499.5,1278.4L1501.5,1278.5L1503.6,1278.5L1505.7,1278.6L1507.7,1278.7L1509.8,1278.7L1511.9,1278.8L1513.9,1278.9L1516.0,1278.9L1518.1,1279.0L1520.1,1279.1L1522.2,1279.1L1524.3,1279.2L1526.3,1279.2L1528.4,1279.3L1530.5,1279.4L1532.5,1279.4L1534.6,1279.5L1536.7,1279.5L1538.7,1279.6L1540.8,1279.6L1542.9,1279.7L1545.0,1279.8L1547.0,1279.8L1549.1,1279.9L1551.2,1279.9L1553.2,1280.0L1555.3,1280.0L1557.4,1280.1L1559.4,1280.1L1561.5,1280.2L1563.6,1280.2L1565.6,1280.3L1567.7,1280.3L1569.8,1280.4L1571.8,1280.4L1573.9,1280.5L1576.0,1280.5L1578.1,1280.6L1580.1,1280.6L1582.2,1280.7L1584.3,1280.7L1586.3,1280.7L1588.4,1280.8L1590.5,1280.8L1592.5,1280.9L1594.6,1280.9L1596.7,1280.9L1598.7,1281.0L1600.8,1281.0L1602.9,1281.1L1605.0,1281.1L1607.0,1281.1L1609.1,1281.2L1611.2,1281.2L1613.2,1281.3L1615.3,1281.3L1617.4,1281.3L1619.4,1281.4L1621.5,1281.4L1623.6,1281.4L1625.6,1281.5L1627.7,1281.5L1629.8,1281.5L1631.9,1281.6L1633.9,1281.6L1636.0,1281.6L1638.1,1281.7L1640.1,1281.7L1642.2,1281.7L1644.3,1281.8L1646.3,1281.8L1648.4,1281.8L1650.5,1281.9L1652.5,1281.9L1654.6,1281.9L1656.7,1281.9L1658.7,1282.0L1660.8,1282.0L1662.9,1282.0L1665.0,1282.1L1667.0,1282.1L1669.1,1282.1L1671.2,1282.1L1673.2,1282.2L1675.3,1282.2L1677.4,1282.2L1679.4,1282.2L1681.5,1282.3L1683.6,1282.3L1685.6,1282.3L1687.7,1282.3L1689.8,1282.4L1691.9,1282.4L1693.9,1282.4L1696.0,1282.4L1698.1,1282.5L1700.1,1282.5L1702.2,1282.5L1704.3,1282.5L1706.3,1282.6L1708.4,1282.6L1710.5,1282.6L1712.5,1282.6L1714.6,1282.6L1716.7,1282.7L1718.7,1282.7L1720.8,1282.7L1722.9,1282.7L1725.0,1282.7L1727.0,1282.8L1729.1,1282.8L1731.2,1282.8L1733.2,1282.8L1735.3,1282.8L1737.4,1282.9L1739.4,1282.9L1741.5,1282.9L1743.6,1282.9L1745.6,1282.9L1747.7,1283.0L1749.8,1283.0L1751.8,1283.0L1753.9,1283.0L1756.0,1283.0L1758.0,1283.1L1760.1,1283.1L1762.2,1283.1L1764.2,1283.1L1766.3,1283.1L1768.4,1283.2L1770.4,1283.2L1772.5,1283.2L1774.6,1283.2L1776.6,1283.2L1778.7,1283.2L1780.8,1283.3L1782.8,1283.3L1784.9,1283.3L1787.0,1283.3L1789.0,1283.3L1791.1,1283.4L1793.2,1283.4L1795.2,1283.4L1797.3,1283.4L1799.4,1283.4L1801.4,1283.4L1803.5,1283.5L1805.6,1283.5L1807.6,1283.5L1809.7,1283.5L1811.8,1283.5L1813.8,1283.6L1815.9,1283.6L1818.0,1283.6L1820.0,1283.6L1822.1,1283.6L1824.2,1283.7L1826.2,1283.7L1828.3,1283.7L1830.4,1283.7L1832.4,1283.7L1834.5,1283.8L1836.6,1283.8L1838.6,1283.8L1840.7,1283.8L1842.8,1283.8L1844.8,1283.9L1846.9,1283.9L1849.0,1283.9L1851.0,1283.9L1853.1,1283.9L1855.1,1284.0L1857.2,1284.0L1859.3,1284.0L1861.3,1284.0L1863.4,1284.1L1865.5,1284.1L1867.5,1284.1L1869.6,1284.1L1871.7,1284.2L1873.7,1284.2L1875.8,1284.2L1877.8,1284.2L1879.9,1284.3L1882.0,1284.3L1884.0,1284.3L1886.1,1284.3L1888.2,1284.4L1890.2,1284.4L1892.3,1284.4L1894.4,1284.4L1896.4,1284.5L1898.5,1284.5L1900.5,1284.5L1902.6,1284.5L1904.7,1284.6L1906.7,1284.6L1908.8,1284.6L1910.8,1284.7L1912.9,1284.7L1915.0,1284.7L1917.0,1284.7L1919.1,1284.8L1921.2,1284.8L1923.2,1284.8L1925.3,1284.9L1927.3,1284.9L1929.4,1284.9"/>
<path stroke="#00f" d="M289.3,1288.6L295.3,1288.2L297.4,1288.1L299.5,1288.0L301.6,1287.9L303.7,1287.8L305.7,1287.7L307.8,1287.7L309.9,1287.6L312.0,1287.5L314.1,1287.5L316.2,1287.4L318.3,1287.4L320.4,1287.3L322.4,1287.3L324.5,1287.3L326.6,1287.2L328.7,1287.2L330.8,1287.2L332.9,1287.2L335.0,1287.2L337.1,1287.2L339.1,1287.2L341.2,1287.2L343.3,1287.2L345.4,1287.2L347.5,1287.3L349.6,1287.3L351.7,1287.3L353.7,1287.3L355.8,1287.4L357.9,1287.4L360.0,1287.4L362.1,1287.5L364.2,1287.5L366.2,1287.6L368.3,1287.6L370.4,1287.6L372.5,1287.7L374.6,1287.7L376.7,1287.8L378.7,1287.8L380.8,1287.9L382.9,1287.9L385.0,1288.0L387.1,1288.0L389.2,1288.1L391.3,1288.1L393.3,1288.2L395.4,1288.2L397.5,1288.3L399.6,1288.3L401.7,1288.4L403.8,1288.4L405.8,1288.5L407.9,1288.5L410.0,1288.5L412.1,1288.6L414.2,1288.6L416.3,1288.7L418.3,1288.7L420.4,1288.7L422.5,1288.7L424.6,1288.8L426.7,1288.8L428.8,1288.8L430.8,1288.8L432.9,1288.8L435.0,1288.8L437.1,1288.8L439.2,1288.8L441.3,1288.8L443.4,1288.8L445.4,1288.8L447.5,1288.7L449.6,1288.7L451.7,1288.7L453.8,1288.6L455.9,1288.6L458.0,1288.5L460.0,1288.5L462.1,1288.4L464.2,1288.4L466.3,1288.3L468.4,1288.2L470.5,1288.1L472.6,1288.0L474.7,1287.9L476.7,1287.8L478.8,1287.7L480.9,1287.5L483.0,1287.4L485.1,1287.2L487.2,1287.1L489.3,1286.9L491.4,1286.8L493.5,1286.6L495.6,1286.4L497.6,1286.2L499.7,1286.0L501.8,1285.8L503.9,1285.5L506.0,1285.3L508.1,1285.0L510.2,1284.8L512.3,1284.5L514.3,1284.2L516.4,1283.8L518.4,1283.5L520.5,1283.1L522.5,1282.7L524.5,1282.2L526.5,1281.7L528.5,1281.2L530.5,1280.7L532.4,1280.1L534.4,1279.5L536.3,1278.8L538.2,1278.1L540.1,1277.3L541.9,1276.5L543.7,1275.7L545.5,1274.8L547.3,1273.8L549.0,1272.8L550.7,1271.7L552.4,1270.6L554.1,1269.4L555.7,1268.2L557.3,1266.9L558.8,1265.5L560.3,1264.1L561.8,1262.7L563.3,1261.2L564.7,1259.6L566.1,1258.1L567.5,1256.4L568.8,1254.8L570.1,1253.1L571.3,1251.4L572.6,1249.6L573.8,1247.8L574.9,1246.0L576.1,1244.2L577.2,1242.3L578.2,1240.4L579.3,1238.5L580.3,1236.6L581.3,1234.7L582.2,1232.8L583.1,1230.8L584.0,1228.9L584.8,1226.9L585.7,1225.0L586.5,1223.0L587.2,1221.1L588.0,1219.1L588.7,1217.1L589.4,1215.2L590.1,1213.2L590.8,1211.2L591.4,1209.2L592.1,1207.2L592.7,1205.2L593.3,1203.2L593.9,1201.2L594.5,1199.3L595.1,1197.3L595.7,1195.3L596.3,1193.3L596.9,1191.3L597.5,1189.3L598.1,1187.3L598.6,1185.3L599.2,1183.3L599.8,1181.3L600.3,1179.3L600.9,1177.3L601.4,1175.2L602.0,1173.2L602.5,1171.2L603.1,1169.2L603.6,1167.2L604.2,1165.2L604.7,1163.2L605.2,1161.2L605.8,1159.2L606.3,1157.2L606.8,1155.2L607.3,1153.1L607.8,1151.1L608.3,1149.1L608.8,1147.1L609.3,1145.1L609.8,1143.1L610.3,1141.0L610.8,1139.0L611.3,1137.0L611.8,1135.0L612.3,1133.0L612.8,1130.9L613.3,1128.9L613.7,1126.9L614.2,1124.9L614.7,1122.8L615.1,1120.8L615.6,1118.8L616.0,1116.8L616.5,1114.7L616.9,1112.7L617.4,1110.7L617.8,1108.7L618.3,1106.6L618.7,1104.6L619.2,1102.6L619.6,1100.5L620.0,1098.5L620.5,1096.5L620.9,1094.4L621.3,1092.4L621.7,1090.4L622.1,1088.3L622.6,1086.3L623.0,1084.3L623.4,1082.2L623.8,1080.2L624.2,1078.1L624.6,1076.1L625.0,1074.1L625.4,1072.0L625.8,1070.0L626.2,1067.9L626.6,1065.9L626.9,1063.9L627.3,1061.8L627.7,1059.8L628.1,1057.7L628.5,1055.7L628.8,1053.6L629.2,1051.6L629.6,1049.5L629.9,1047.5L630.3,1045.4L630.7,1043.4L631.0,1041.4L631.4,1039.3L631.8,1037.3L632.1,1035.2L632.5,1033.2L632.8,1031.1L633.2,1029.1L633.5,1027.0L633.9,1024.9L634.2,1022.9L634.5,1020.8L634.9,1018.8L635.2,1016.7L635.5,1014.7L635.9,1012.6L636.2,1010.6L636.5,1008.5L636.9,1006.5L637.2,1004.4L637.5,1002.3L637.8,1000.3L638.2,998.2L638.5,996.2L638.8,994.1L639.1,992.1L639.4,990.0L639.7,987.9L640.1,985.9L640.4,983.8L640.7,981.8L641.0,979.7L641.3,977.6L641.6,975.6L641.9,973.5L642.2,971.4L642.5,969.4L642.8,967.3L643.1,965.3L643.4,963.2L643.7,961.1L644.0,959.1L644.3,957.0L644.6,954.9L644.8,952.9L645.1,950.8L645.4,948.7L645.7,946.7L646.0,944.6L646.3,942.5L646.6,940.5L646.8,938.4L647.1,936.3L647.4,934.3L647.7,932.2L648.0,930.1L648.2,928.1L648.5,926.0L648.8,923.9L649.1,921.9L649.4,919.8L649.6,917.7L649.9,915.6L650.2,913.6L650.4,911.5L650.7,909.4L651.0,907.4L651.3,905.3L651.5,903.2L651.8,901.1L652.1,899.1L652.3,897.0L652.6,894.9L652.9,892.9L653.1,890.8L653.4,888.7L653.7,886.6L653.9,884.6L654.2,882.5L654.5,880.4L654.7,878.4L655.0,876.3L655.3,874.2L655.5,872.1L655.8,870.1L656.0,868.0L656.3,865.9L656.6,863.8L656.8,861.8L657.1,859.7L657.4,857.6L657.6,855.5L657.9,853.5L658.2,851.4L658.4,849.3L658.7,847.2L658.9,845.2L659.2,843.1L659.5,841.0L659.7,838.9L660.0,836.9L660.3,834.8L660.5,832.7L660.8,830.6L661.1,828.6L661.3,826.5L661.6,824.4L661.8,822.3L662.1,820.3L662.4,818.2L662.6,816.1L662.9,814.0L663.2,812.0L663.5,809.9L663.7,807.8L664.0,805.7L664.3,803.7L664.5,801.6L664.8,799.5L665.1,797.5L665.3,795.4L665.6,793.3L665.9,791.2L666.2,789.2L666.4,787.1L666.7,785.0L667.0,782.9L667.3,780.9L667.6,778.8L667.8,776.7L668.1,774.6L668.4,772.6L668.7,770.5L669.0,768.4L669.2,766.3L669.5,764.3L669.8,762.2L670.1,760.1L670.4,758.1L670.7,756.0L671.0,753.9L671.3,751.8L671.5,749.8L671.8,747.7L672.1,745.6L672.4,743.6L672.7,741.5L673.0,739.4L673.3,737.3L673.6,735.3L673.9,733.2L674.2,731.1L674.5,729.1L674.8,727.0L675.1,724.9L675.4,722.8L675.7,720.8L676.0,718.7L676.3,716.6L676.6,714.6L676.9,712.5L677.2,710.4L677.5,708.4L677.9,706.3L678.2,704.2L678.5,702.2L678.8,700.1L679.1,698.0L679.4,696.0L679.7,693.9L680.0,691.8L680.4,689.8L680.7,687.7L681.0,685.6L681.3,683.6L681.6,681.5L682.0,679.5L682.3,677.4L682.6,675.3L682.9,673.3L683.2,671.2L683.6,669.1L683.9,667.1L684.2,665.0L684.6,663.0L684.9,660.9L685.2,658.8L685.5,656.8L685.9,654.7L686.2,652.7L686.5,650.6L686.9,648.5L687.2,646.5L687.5,644.4L687.9,642.4L688.2,640.3L688.6,638.3L688.9,636.2L689.2,634.1L689.6,632.1L689.9,630.0L690.3,628.0L690.6,625.9L690.9,623.9L691.3,621.8L691.6,619.8L692.0,617.7L692.3,615.7L692.7,613.6L693.0,611.6L693.4,609.5L693.7,607.5L694.1,605.4L694.4,603.4L694.8,601.3L695.1,599.3L695.5,597.2L695.9,595.2L696.2,593.1L696.6,591.1L696.9,589.0L697.3,587.0L697.7,585.0L698.0,582.9L698.4,580.9L698.7,578.8L699.1,576.8L699.5,574.7L699.8,572.7L700.2,570.7L700.6,568.6L700.9,566.6L701.3,564.5L701.7,562.5L702.1,560.5L702.4,558.4L702.8,556.4L703.2,554.4L703.6,552.3L703.9,550.3L704.3,548.3L704.7,546.2L705.1,544.2L705.4,542.2L705.8,540.1L706.2,538.1L706.6,536.1L707.0,534.0L707.4,532.0L707.7,530.0L708.1,528.0L708.5,525.9L708.9,523.9L709.3,521.9L709.7,519.9L710.1,517.8L710.5,515.8L710.9,513.8L711.3,511.8L711.7,509.7L712.1,507.7L712.5,505.7L712.9,503.7L713.3,501.7L713.7,499.6L714.1,497.6L714.5,495.6L714.9,493.6L715.3,491.5L715.8,489.5L716.2,487.5L716.6,485.5L717.1,483.4L717.5,481.4L717.9,479.4L718.4,477.4L718.8,475.3L719.3,473.3L719.8,471.3L720.2,469.3L720.7,467.2L721.2,465.2L721.6,463.2L722.1,461.1L722.6,459.1L723.1,457.1L723.6,455.0L724.1,453.0L724.6,450.9L725.1,448.9L725.7,446.9L726.2,444.8L726.7,442.8L727.3,440.7L727.8,438.7L728.4,436.6L729.0,434.6L729.5,432.5L730.1,430.5L730.7,428.4L731.3,426.3L731.9,424.3L732.5,422.2L733.1,420.2L733.7,418.1L734.4,416.0L735.0,413.9L735.6,411.9L736.3,409.8L737.0,407.7L737.6,405.6L738.3,403.6L739.0,401.5L739.8,399.4L740.5,397.4L741.3,395.4L742.0,393.3L742.8,391.3L743.7,389.4L744.5,387.4L745.4,385.4L746.3,383.5L747.2,381.6L748.2,379.8L749.2,377.9L750.2,376.1L751.2,374.3L752.3,372.6L753.5,370.9L754.6,369.2L755.8,367.6L757.1,366.0L758.4,364.5L759.7,363.0L761.1,361.6L762.5,360.2L764.0,358.8L765.5,357.5L767.0,356.3L768.7,355.1L770.3,354.0L772.1,353.0L773.8,352.0L775.7,351.1L777.5,350.2L779.4,349.5L781.4,348.8L783.3,348.2L785.3,347.7L787.3,347.3L789.3,347.0L791.4,346.8L793.4,346.7L795.4,346.7L797.4,346.9L799.4,347.2L801.4,347.5L803.3,348.1L805.3,348.7L807.2,349.4L809.1,350.3L810.9,351.2L812.7,352.2L814.5,353.3L816.2,354.5L817.9,355.7L819.6,357.0L821.2,358.4L822.8,359.9L824.4,361.4L825.9,362.9L827.4,364.5L828.9,366.1L830.4,367.8L831.8,369.4L833.2,371.1L834.6,372.8L836.0,374.6L837.3,376.3L838.6,378.0L839.9,379.8L841.2,381.5L842.5,383.2L843.7,385.0L845.0,386.7L846.2,388.5L847.4,390.2L848.5,391.9L849.7,393.7L850.8,395.4L852.0,397.2L853.1,398.9L854.2,400.7L855.3,402.4L856.4,404.2L857.4,405.9L858.5,407.7L859.6,409.4L860.6,411.2L861.6,412.9L862.7,414.7L863.7,416.5L864.7,418.2L865.7,420.0L866.7,421.8L867.7,423.6L868.7,425.4L869.7,427.1L870.7,428.9L871.6,430.7L872.6,432.5L873.6,434.3L874.5,436.1L875.5,437.9L876.5,439.7L877.4,441.5L878.4,443.4L879.3,445.2L880.3,447.0L881.2,448.8L882.2,450.7L883.1,452.5L884.0,454.3L885.0,456.1L885.9,458.0L886.8,459.8L887.7,461.7L888.6,463.5L889.6,465.4L890.5,467.2L891.4,469.1L892.3,470.9L893.2,472.8L894.1,474.6L895.0,476.5L895.9,478.4L896.8,480.2L897.7,482.1L898.5,484.0L899.4,485.9L900.3,487.7L901.2,489.6L902.1,491.5L902.9,493.4L903.8,495.2L904.7,497.1L905.5,499.0L906.4,500.9L907.3,502.8L908.1,504.7L909.0,506.6L909.8,508.5L910.7,510.4L911.6,512.3L912.4,514.2L913.3,516.1L914.1,518.0L915.0,519.9L915.8,521.8L916.6,523.7L917.5,525.6L918.3,527.5L919.2,529.4L920.0,531.3L920.8,533.3L921.7,535.2L922.5,537.1L923.3,539.0L924.2,540.9L925.0,542.8L925.8,544.8L926.6,546.7L927.5,548.6L928.3,550.5L929.1,552.4L929.9,554.4L930.8,556.3L931.6,558.2L932.4,560.1L933.2,562.1L934.1,564.0L934.9,565.9L935.7,567.8L936.5,569.8L937.3,571.7L938.1,573.6L939.0,575.6L939.8,577.5L940.6,579.4L941.4,581.3L942.2,583.3L943.1,585.2L943.9,587.1L944.7,589.1L945.5,591.0L946.3,592.9L947.1,594.8L947.9,596.8L948.8,598.7L949.6,600.6L950.4,602.6L951.2,604.5L952.0,606.4L952.9,608.3L953.7,610.3L954.5,612.2L955.3,614.1L956.1,616.0L956.9,618.0L957.8,619.9L958.6,621.8L959.4,623.7L960.2,625.7L961.1,627.6L961.9,629.5L962.7,631.4L963.5,633.4L964.3,635.3L965.2,637.2L966.0,639.1L966.8,641.0L967.6,643.0L968.5,644.9L969.3,646.8L970.1,648.7L970.9,650.6L971.8,652.6L972.6,654.5L973.4,656.4L974.3,658.3L975.1,660.2L975.9,662.2L976.8,664.1L977.6,666.0L978.4,667.9L979.3,669.8L980.1,671.7L980.9,673.7L981.8,675.6L982.6,677.5L983.4,679.4L984.3,681.3L985.1,683.2L986.0,685.1L986.8,687.0L987.6,688.9L988.5,690.9L989.3,692.8L990.2,694.7L991.0,696.6L991.9,698.5L992.7,700.4L993.6,702.3L994.4,704.2L995.3,706.1L996.1,708.0L997.0,709.9L997.8,711.8L998.7,713.7L999.5,715.6L1000.4,717.5L1001.2,719.4L1002.1,721.3L1003.0,723.2L1003.8,725.1L1004.7,727.0L1005.5,728.9L1006.4,730.8L1007.3,732.7L1008.1,734.6L1009.0,736.5L1009.9,738.4L1010.8,740.3L1011.6,742.2L1012.5,744.1L1013.4,746.0L1014.2,747.9L1015.1,749.8L1016.0,751.7L1016.9,753.5L1017.8,755.4L1018.6,757.3L1019.5,759.2L1020.4,761.1L1021.3,763.0L1022.2,764.9L1023.1,766.7L1024.0,768.6L1024.9,770.5L1025.8,772.4L1026.7,774.3L1027.6,776.2L1028.5,778.0L1029.4,779.9L1030.3,781.8L1031.2,783.7L1032.1,785.5L1033.0,787.4L1033.9,789.3L1034.8,791.2L1035.7,793.0L1036.6,794.9L1037.5,796.8L1038.4,798.6L1039.4,800.5L1040.3,802.4L1041.2,804.2L1042.1,806.1L1043.1,808.0L1044.0,809.8L1044.9,811.7L1045.8,813.6L1046.8,815.4L1047.7,817.3L1048.6,819.1L1049.6,821.0L1050.5,822.8L1051.5,824.7L1052.4,826.6L1053.4,828.4L1054.3,830.3L1055.3,832.1L1056.2,834.0L1057.2,835.8L1058.1,837.7L1059.1,839.5L1060.0,841.3L1061.0,843.2L1062.0,845.0L1062.9,846.9L1063.9,848.7L1064.9,850.6L1065.8,852.4L1066.8,854.2L1067.8,856.1L1068.8,857.9L1069.7,859.7L1070.7,861.6L1071.7,863.4L1072.7,865.2L1073.7,867.1L1074.7,868.9L1075.7,870.7L1076.7,872.6L1077.7,874.4L1078.7,876.2L1079.7,878.0L1080.7,879.8L1081.7,881.7L1082.7,883.5L1083.7,885.3L1084.7,887.1L1085.7,888.9L1086.8,890.8L1087.8,892.6L1088.8,894.4L1089.8,896.2L1090.9,898.0L1091.9,899.8L1092.9,901.6L1094.0,903.4L1095.0,905.2L1096.1,907.0L1097.1,908.8L1098.1,910.6L1099.2,912.4L1100.2,914.2L1101.3,916.0L1102.4,917.8L1103.4,919.6L1104.5,921.4L1105.6,923.2L1106.6,925.0L1107.7,926.8L1108.8,928.5L1109.8,930.3L1110.9,932.1L1112.0,933.9L1113.1,935.7L1114.2,937.5L1115.3,939.2L1116.4,941.0L1117.5,942.8L1118.6,944.6L1119.7,946.3L1120.8,948.1L1121.9,949.9L1123.0,951.6L1124.1,953.4L1125.2,955.2L1126.3,956.9L1127.5,958.7L1128.6,960.5L1129.7,962.2L1130.8,964.0L1132.0,965.7L1133.1,967.5L1134.3,969.2L1135.4,971.0L1136.5,972.7L1137.7,974.5L1138.9,976.2L1140.0,978.0L1141.2,979.7L1142.3,981.5L1143.5,983.2L1144.7,984.9L1145.8,986.7L1147.0,988.4L1148.2,990.1L1149.4,991.9L1150.6,993.6L1151.7,995.3L1152.9,997.0L1154.1,998.8L1155.3,1000.5L1156.5,1002.2L1157.7,1003.9L1159.0,1005.6L1160.2,1007.3L1161.4,1009.0L1162.6,1010.7L1163.8,1012.4L1165.1,1014.1L1166.3,1015.8L1167.5,1017.5L1168.8,1019.2L1170.0,1020.9L1171.3,1022.6L1172.5,1024.2L1173.8,1025.9L1175.0,1027.6L1176.3,1029.2L1177.6,1030.9L1178.8,1032.6L1180.1,1034.2L1181.4,1035.9L1182.7,1037.5L1184.0,1039.2L1185.3,1040.8L1186.6,1042.4L1187.9,1044.1L1189.2,1045.7L1190.5,1047.3L1191.8,1048.9L1193.1,1050.5L1194.4,1052.2L1195.8,1053.8L1197.1,1055.4L1198.4,1057.0L1199.8,1058.6L1201.1,1060.2L1202.5,1061.7L1203.8,1063.3L1205.2,1064.9L1206.5,1066.5L1207.9,1068.0L1209.3,1069.6L1210.7,1071.2L1212.0,1072.7L1213.4,1074.3L1214.8,1075.8L1216.2,1077.4L1217.6,1078.9L1219.0,1080.4L1220.4,1082.0L1221.8,1083.5L1223.3,1085.0L1224.7,1086.5L1226.1,1088.0L1227.5,1089.5L1229.0,1091.0L1230.4,1092.5L1231.9,1094.0L1233.3,1095.5L1234.8,1097.0L1236.2,1098.5L1237.7,1100.0L1239.2,1101.4L1240.6,1102.9L1242.1,1104.4L1243.6,1105.8L1245.1,1107.3L1246.6,1108.7L1248.1,1110.2L1249.6,1111.6L1251.1,1113.0L1252.6,1114.5L1254.1,1115.9L1255.6,1117.3L1257.2,1118.7L1258.7,1120.1L1260.2,1121.5L1261.8,1122.9L1263.3,1124.3L1264.9,1125.7L1266.4,1127.1L1268.0,1128.5L1269.6,1129.9L1271.1,1131.2L1272.7,1132.6L1274.3,1134.0L1275.9,1135.3L1277.5,1136.7L1279.1,1138.0L1280.7,1139.4L1282.3,1140.7L1283.9,1142.0L1285.5,1143.4L1287.1,1144.7L1288.8,1146.0L1290.4,1147.3L1292.0,1148.6L1293.7,1149.9L1295.3,1151.2L1297.0,1152.5L1298.6,1153.7L1300.3,1155.0L1302.0,1156.3L1303.6,1157.5L1305.3,1158.8L1307.0,1160.0L1308.7,1161.3L1310.3,1162.5L1312.0,1163.7L1313.7,1164.9L1315.4,1166.2L1317.1,1167.4L1318.9,1168.6L1320.6,1169.7L1322.3,1170.9L1324.0,1172.1L1325.8,1173.3L1327.5,1174.4L1329.2,1175.6L1331.0,1176.8L1332.7,1177.9L1334.5,1179.0L1336.2,1180.2L1338.0,1181.3L1339.8,1182.4L1341.5,1183.5L1343.3,1184.6L1345.1,1185.7L1346.9,1186.8L1348.7,1187.8L1350.5,1188.9L1352.2,1190.0L1354.1,1191.0L1355.9,1192.0L1357.7,1193.1L1359.5,1194.1L1361.3,1195.1L1363.1,1196.1L1365.0,1197.1L1366.8,1198.1L1368.6,1199.1L1370.5,1200.1L1372.3,1201.0L1374.2,1202.0L1376.0,1203.0L1377.9,1203.9L1379.7,1204.8L1381.6,1205.7L1383.5,1206.7L1385.3,1207.6L1387.2,1208.5L1389.1,1209.4L1391.0,1210.2L1392.9,1211.1L1394.8,1212.0L1396.7,1212.8L1398.6,1213.7L1400.5,1214.5L1402.4,1215.4L1404.3,1216.2L1406.2,1217.0L1408.1,1217.8L1410.0,1218.6L1412.0,1219.4L1413.9,1220.2L1415.8,1221.0L1417.8,1221.8L1419.7,1222.6L1421.6,1223.3L1423.6,1224.1L1425.5,1224.8L1427.5,1225.6L1429.4,1226.3L1431.4,1227.0L1433.3,1227.7L1435.3,1228.4L1437.3,1229.1L1439.2,1229.8L1441.2,1230.5L1443.2,1231.2L1445.1,1231.9L1447.1,1232.5L1449.1,1233.2L1451.1,1233.9L1453.1,1234.5L1455.0,1235.1L1457.0,1235.8L1459.0,1236.4L1461.0,1237.0L1463.0,1237.6L1465.0,1238.3L1467.0,1238.9L1469.0,1239.5L1471.0,1240.0L1473.0,1240.6L1475.0,1241.2L1477.0,1241.8L1479.1,1242.3L1481.1,1242.9L1483.1,1243.5L1485.1,1244.0L1487.1,1244.5L1489.1,1245.1L1491.2,1245.6L1493.2,1246.1L1495.2,1246.6L1497.2,1247.2L1499.3,1247.7L1501.3,1248.2L1503.3,1248.7L1505.4,1249.1L1507.4,1249.6L1509.4,1250.1L1511.5,1250.6L1513.5,1251.0L1515.5,1251.5L1517.6,1252.0L1519.6,1252.4L1521.7,1252.9L1523.7,1253.3L1525.7,1253.7L1527.8,1254.2L1529.8,1254.6L1531.9,1255.0L1533.9,1255.4L1536.0,1255.8L1538.0,1256.2L1540.1,1256.6L1542.1,1257.0L1544.2,1257.4L1546.2,1257.8L1548.3,1258.2L1550.3,1258.6L1552.4,1258.9L1554.4,1259.3L1556.5,1259.7L1558.5,1260.0L1560.6,1260.4L1562.6,1260.7L1564.7,1261.1L1566.7,1261.4L1568.8,1261.8L1570.8,1262.1L1572.9,1262.4L1575.0,1262.7L1577.0,1263.1L1579.1,1263.4L1581.1,1263.7L1583.2,1264.0L1585.2,1264.3L1587.3,1264.6L1589.4,1264.9L1591.4,1265.2L1593.5,1265.5L1595.6,1265.8L1597.6,1266.0L1599.7,1266.3L1601.7,1266.6L1603.8,1266.9L1605.9,1267.1L1607.9,1267.4L1610.0,1267.6L1612.1,1267.9L1614.1,1268.2L1616.2,1268.4L1618.3,1268.7L1620.3,1268.9L1622.4,1269.1L1624.5,1269.4L1626.5,1269.6L1628.6,1269.8L1630.7,1270.1L1632.7,1270.3L1634.8,1270.5L1636.9,1270.7L1639.0,1270.9L1641.0,1271.1L1643.1,1271.3L1645.2,1271.5L1647.2,1271.8L1649.3,1272.0L1651.4,1272.1L1653.5,1272.3L1655.5,1272.5L1657.6,1272.7L1659.7,1272.9L1661.8,1273.1L1663.8,1273.3L1665.9,1273.5L1668.0,1273.6L1670.1,1273.8L1672.1,1274.0L1674.2,1274.1L1676.3,1274.3L1678.4,1274.5L1680.5,1274.6L1682.5,1274.8L1684.6,1275.0L1686.7,1275.1L1688.8,1275.3L1690.8,1275.4L1692.9,1275.6L1695.0,1275.7L1697.1,1275.9L1699.2,1276.0L1701.2,1276.2L1703.3,1276.3L1705.4,1276.4L1707.5,1276.6L1709.6,1276.7L1711.7,1276.8L1713.7,1277.0L1715.8,1277.1L1717.9,1277.2L1720.0,1277.4L1722.1,1277.5L1724.1,1277.6L1726.2,1277.7L1728.3,1277.9L1730.4,1278.0L1732.5,1278.1L1734.6,1278.2L1736.7,1278.3L1738.7,1278.5L1740.8,1278.6L1742.9,1278.7L1745.0,1278.8L1747.1,1278.9L1749.2,1279.0L1751.2,1279.1L1753.3,1279.3L1755.4,1279.4L1757.5,1279.5L1759.6,1279.6L1761.7,1279.7L1763.8,1279.8L1765.8,1279.9L1767.9,1280.0L1770.0,1280.1L1772.1,1280.2L1774.2,1280.3L1776.3,1280.4L1778.4,1280.5L1780.5,1280.6L1782.5,1280.7L1784.6,1280.8L1786.7,1281.0L1788.8,1281.1L1790.9,1281.2L1793.0,1281.3L1795.1,1281.4L1797.1,1281.5L1799.2,1281.6L1801.3,1281.7L1803.4,1281.8L1805.5,1281.9L1807.6,1282.0L1809.7,1282.1L1811.8,1282.2L1813.8,1282.3L1815.9,1282.4L1818.0,1282.5L1820.1,1282.6L1822.2,1282.7L1824.3,1282.8L1826.4,1282.9L1828.5,1283.0L1830.5,1283.1L1832.6,1283.3L1834.7,1283.4L1836.8,1283.5L1838.9,1283.6L1841.0,1283.7L1843.1,1283.8L1845.2,1283.9L1847.2,1284.0L1849.3,1284.2L1851.4,1284.3L1853.5,1284.4L1855.6,1284.5L1857.7,1284.6L1859.8,1284.7L1861.9,1284.9L1863.9,1285.0L1866.0,1285.1L1868.1,1285.2L1870.2,1285.3L1872.3,1285.4L1874.4,1285.5L1876.5,1285.6L1878.5,1285.7L1880.6,1285.8L1882.7,1285.9L1884.8,1286.0L1886.9,1286.1L1889.0,1286.2L1891.0,1286.2L1893.1,1286.3L1895.2,1286.4L1897.3,1286.5L1899.4,1286.5L1901.5,1286.6L1903.5,1286.6L1905.6,1286.7L1907.7,1286.7L1909.8,1286.7L1911.9,1286.8L1914.0,1286.8L1916.0,1286.8L1918.1,1286.8L1920.2,1286.8L1922.3,1286.8L1924.4,1286.8L1926.4,1286.7L1928.5,1286.7L1930.6,1286.6L1932.7,1286.6L1934.7,1286.5L1936.8,1286.5L1938.9,1286.4L1941.0,1286.3L1943.0,1286.2L1945.1,1286.1L1947.2,1285.9L1949.3,1285.8L1951.3,1285.7L1953.4,1285.5L1955.5,1285.3L1957.6,1285.2L1959.6,1285.0L1961.7,1284.8L1963.8,1284.6L1965.8,1284.3L1967.9,1284.1L1970.0,1283.8L1972.0,1283.6L1974.1,1283.3L1976.2,1283.0L1978.2,1282.7L1980.3,1282.3L1982.4,1282.0L1984.4,1281.7L1990.4,1280.6"/>
</g>
<line x1="703.40" y1="119.10" x2="852.70" y2="119.10" stroke="#000" stroke-width="9.60" stroke-linecap="round"/>
<line x1="703.40" y1="201.70" x2="852.70" y2="201.70" stroke="#f00" stroke-width="8.60" stroke-linecap="round"/>
<line x1="703.40" y1="284.20" x2="852.70" y2="284.20" stroke="#00f" stroke-width="9.60" stroke-linecap="round"/>
<text transform="translate(871.20,141.60) scale(1,1.022)" font-size="67.30">Complex</text>
<text transform="translate(871.20,224.40) scale(1,1.022)" font-size="67.30">4,4'-Bipyridine</text>
<text transform="translate(871.20,307.20) scale(1,1.022)" font-size="67.30"><tspan font-style="italic">trans</tspan>-2,3,4-Trimethoxycinnamic acid</text>
</svg></body></html>
